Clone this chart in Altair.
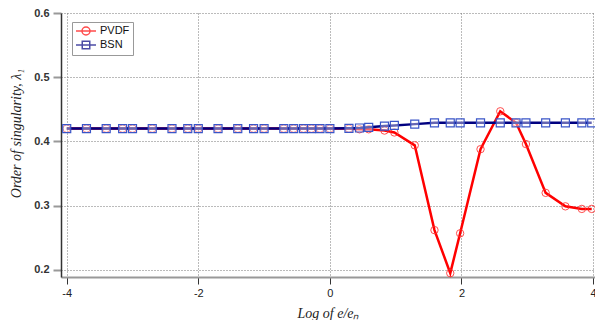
import altair as alt
import pandas as pd

# ---- data ----
x_log = [-4.0, -3.70, -3.40, -3.15, -3.0, -2.70, -2.40, -2.16, -2.0, -1.70, -1.40, -1.16,
         -1.0, -0.70, -0.55, -0.40, -0.28, -0.15, 0.0, 0.29, 0.45, 0.59, 0.83, 0.98,
         1.29, 1.59, 1.83, 1.98, 2.29, 2.59, 2.83, 2.98, 3.28, 3.58, 3.83, 3.98]
bsn = [0.42] * 19 + [0.4205, 0.421, 0.422, 0.424, 0.425, 0.427] + [0.429] * 11
pvdf = [0.42] * 19 + [0.42, 0.419, 0.419, 0.417, 0.414, 0.394, 0.262, 0.195, 0.257,
                      0.388, 0.447, 0.429, 0.396, 0.320, 0.299, 0.295, 0.295]
series_names = ["PVDF", "BSN"]
x_ticks = [-4, -2, 0, 2, 4]
y_ticks = [0.2, 0.3, 0.4, 0.5, 0.6]

rows = []
for name, vals in zip(series_names, [pvdf, bsn]):
    for xv, yv in zip(x_log, vals):
        rows.append({"x": xv, "y": yv, "series": name})
df = pd.DataFrame(rows)

xscale = alt.Scale(domain=[-4.087, 4.03], nice=False, zero=False)
yscale = alt.Scale(domain=[0.189, 0.6], nice=False, zero=False)

xaxis = alt.Axis(values=x_ticks, title="Log of e/eₙ", grid=True, gridDash=[1, 2],
                 gridColor="#777", gridWidth=1, domainColor="#999", domainWidth=2,
                 tickColor="#333", tickSize=7, tickWidth=1, labelPadding=3,
                 labelFont="Liberation Sans", labelFontSize=11, labelColor="#222",
                 labelExpr="datum.value + ''",
                 titleFont="Liberation Serif", titleFontStyle="italic",
                 titleFontWeight="normal", titleFontSize=14, titleColor="#222",
                 titleBaseline="alphabetic", titleY=40)
yaxis = alt.Axis(values=y_ticks, format=".1f", title="Order of singularity, λ₁", grid=True,
                 gridDash=[1, 2], gridColor="#777", gridWidth=1, domainColor="#333",
                 domainWidth=1.5, tickColor="#999", tickWidth=2, tickSize=8, labelPadding=4,
                 labelFont="Liberation Sans", labelFontSize=11, labelFontWeight="bold",
                 labelColor="#333", titleFont="Liberation Serif", titleFontStyle="italic",
                 titleFontWeight="normal", titleFontSize=14, titleColor="#222",
                 titleBaseline="middle", titleAlign="center", titleX=-45, titleY=120)

# legend symbols: a short line with the marker on it
circ_path = "M-1,0H3M0.2,0A0.8,0.8 0 1,1 1.8,0A0.8,0.8 0 1,1 0.2,0"
sq_path = "M-1,0H3M0.25,-0.75H1.75V0.75H0.25Z"
legend = alt.Legend(
    orient="none", legendX=11, legendY=9, title=None, symbolSize=100,
    labelOffset=13, padding=3, strokeColor="#999", fillColor="white", rowPadding=0,
    labelFont="Liberation Sans", labelFontSize=11, labelColor="#111",
    symbolStrokeWidth=1.5,
)

base = alt.Chart(df).encode(
    x=alt.X("x:Q", scale=xscale, axis=xaxis),
    y=alt.Y("y:Q", scale=yscale, axis=yaxis),
)

pv_line = base.transform_filter("datum.series == 'PVDF'").mark_line(strokeWidth=2.5, color="#ff0000")
pv_pts = base.transform_filter("datum.series == 'PVDF'").mark_point(
    shape="circle", filled=False, size=55, strokeWidth=1, color="#ff3030", opacity=0.85)
bs_line = base.transform_filter("datum.series == 'BSN'").mark_line(strokeWidth=2.5, color="#000080")
bs_pts = base.transform_filter("datum.series == 'BSN'").mark_point(
    shape="square", size=64, fill="#ffffff", fillOpacity=0.4, stroke="#3a55c8",
    strokeWidth=1.2, opacity=1)

# legend-only layer (draws nothing; legend comes from the scales' domains)
leg = base.transform_filter("false").mark_point(filled=False, strokeWidth=1.5, size=100).encode(
    color=alt.Color("series:N", scale=alt.Scale(domain=series_names, range=["#ff0000", "#000080"]),
                    legend=legend),
    shape=alt.Shape("series:N", scale=alt.Scale(domain=series_names, range=[circ_path, sq_path]),
                    legend=legend),
)

chart = alt.layer(pv_line, pv_pts, bs_line, bs_pts, leg).properties(
    width=534, height=264,
    autosize=alt.AutoSizeParams(type="none"),
    padding={"left": 61, "top": 13, "right": 0, "bottom": 43},
    background="white",
).configure_view(stroke=None)

chart.save("out.html", embed_options={"renderer": "svg", "actions": False})
